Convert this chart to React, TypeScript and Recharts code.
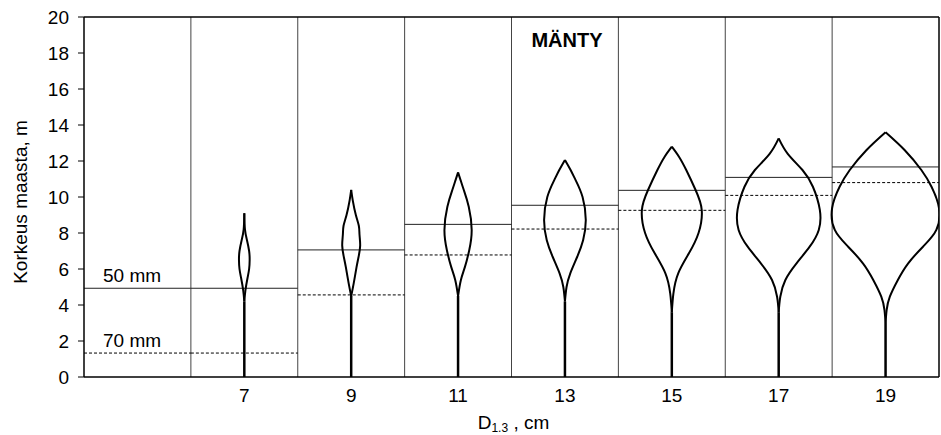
import {
  ComposedChart,
  XAxis,
  YAxis,
  Scatter,
  ReferenceLine,
  ReferenceDot,
  Label,
  Curve,
} from "recharts";

// rinnankorkeusläpimitta (cm), the violins sit on these
const diameters = [7, 9, 11, 13, 15, 17, 19];

// cell borders along x (each cell is 2 cm wide)
const cellStart = [4, 6, 8, 10, 12, 14, 16, 18];
const cellWidth = 2;

// height (m) where the stem reaches 50 mm and 70 mm, per cell
const level50 = [4.93, 4.93, 7.06, 8.48, 9.54, 10.37, 11.09, 11.67];
const level70 = [1.33, 1.33, 4.56, 6.78, 8.22, 9.26, 10.09, 10.8];

const yTicks = [0, 2, 4, 6, 8, 10, 12, 14, 16, 18, 20];

// crown profiles: [height m, half width in cm-axis units], bottom to top
const profile7 = [[4.2, 0], [4.8, 0.02], [5.5, 0.06], [6.0, 0.09], [6.5, 0.1], [7.0, 0.09], [7.6, 0.05], [8.2, 0.012], [9.1, 0]];
const profile9 = [[4.5, 0], [5.2, 0.047], [6.1, 0.1], [6.7, 0.14], [7.3, 0.168], [7.9, 0.156], [8.4, 0.143], [9.0, 0.087], [9.8, 0.03], [10.4, 0]];
const profile11 = [[4.5, 0], [5.39, 0.053], [6.13, 0.13], [7.06, 0.21], [8.17, 0.255], [9.46, 0.2], [10.4, 0.106], [10.94, 0.047], [11.37, 0]];
const profile13 = [[4.2, 0], [5.0, 0.03], [5.76, 0.1], [6.68, 0.23], [7.6, 0.34], [8.72, 0.39], [10.0, 0.33], [10.94, 0.2], [11.5, 0.106], [12.06, 0]];
const profile15 = [[3.6, 0], [4.65, 0.03], [5.76, 0.12], [6.87, 0.32], [8.0, 0.5], [9.28, 0.56], [10.39, 0.445], [11.5, 0.27], [12.24, 0.134], [12.8, 0]];
const profile17 = [[3.6, 0], [4.46, 0.03], [5.39, 0.125], [6.3, 0.33], [7.24, 0.58], [8.17, 0.75], [9.28, 0.77], [10.57, 0.64], [11.5, 0.445], [12.4, 0.17], [13.26, 0]];
const profile19 = [[3.0, 0], [3.72, 0.02], [4.46, 0.08], [5.39, 0.23], [6.3, 0.42], [7.24, 0.7], [8.17, 0.95], [9.39, 1.0], [10.57, 0.86], [11.5, 0.67], [12.6, 0.36], [13.6, 0]];

const profiles = [profile7, profile9, profile11, profile13, profile15, profile17, profile19];

const FONT = "'Liberation Sans', Arial, sans-serif";

const renderNothing = () => <g />;

// smooth outline through the scatter points
const renderOutline = (props: any) => (
  <Curve points={props.points} type="natural" stroke="#000" strokeWidth={2} fill="none" />
);

const tagLabel = (text: string) => (props: any) => {
  const vb = props.viewBox;
  return (
    <text x={vb.x + 19} y={vb.y - 6} fontSize={19} fill="#000" fontFamily={FONT}>
      {text}
    </text>
  );
};

const renderYLabel = (props: any) => {
  const vb = props.viewBox;
  const x = 27;
  const y = vb.y + vb.height / 2 + 5;
  return (
    <text x={x} y={y} transform={`rotate(-90 ${x} ${y})`} textAnchor="middle" fontSize={19} fill="#000" fontFamily={FONT}>
      Korkeus maasta, m
    </text>
  );
};

const renderXLabel = (props: any) => {
  const vb = props.viewBox;
  return (
    <text x={vb.x + vb.width / 2 + 2} y={vb.y + 52} textAnchor="middle" fontSize={19} fill="#000" fontFamily={FONT}>
      D<tspan fontSize={12} dy={3}>1.3</tspan>
      <tspan dy={-3}> , cm</tspan>
    </text>
  );
};

export default function App() {
  return (
    <div style={{ position: "absolute", left: 0, top: 0, background: "#fff" }}>
      <ComposedChart
        width={941}
        height={435}
        margin={{ top: 17, right: 2, bottom: 0, left: 0 }}
        style={{ fontFamily: FONT }}
      >
        <XAxis
          type="number"
          dataKey="x"
          domain={[4, 20]}
          allowDataOverflow
          ticks={diameters}
          interval={0}
          tickLine={false}
          tickMargin={6}
          height={58}
          axisLine={{ stroke: "#000", strokeWidth: 1.5 }}
          tick={{ fill: "#000", fontSize: 19 }}
        >
          <Label content={renderXLabel} />
        </XAxis>
        <YAxis
          type="number"
          dataKey="y"
          domain={[0, 20]}
          allowDataOverflow
          ticks={yTicks}
          interval={0}
          width={84}
          tickSize={6}
          tickMargin={9}
          axisLine={{ stroke: "#000", strokeWidth: 1.5 }}
          tickLine={{ stroke: "#000" }}
          tick={{ fill: "#000", fontSize: 19 }}
        >
          <Label content={renderYLabel} />
        </YAxis>

        {cellStart.slice(1).map((x) => (
          <ReferenceLine key={`v${x}`} x={x} stroke="#444" strokeWidth={1} />
        ))}
        <ReferenceLine x={20} stroke="#000" strokeWidth={1.5} />
        <ReferenceLine y={20} stroke="#000" strokeWidth={1.5} />

        {cellStart.map((x, i) => (
          <ReferenceLine
            key={`s${x}`}
            segment={[{ x, y: level50[i] }, { x: x + cellWidth, y: level50[i] }]}
            stroke="#222"
            strokeWidth={1}
            label={i === 0 ? tagLabel("50 mm") : undefined}
          />
        ))}
        {cellStart.map((x, i) => (
          <ReferenceLine
            key={`d${x}`}
            segment={[{ x, y: level70[i] }, { x: x + cellWidth, y: level70[i] }]}
            stroke="#000"
            strokeWidth={1}
            strokeDasharray="3 2"
            label={i === 0 ? tagLabel("70 mm") : undefined}
          />
        ))}

        {diameters.map((d, i) => (
          <ReferenceLine
            key={`stem${d}`}
            segment={[{ x: d, y: 0 }, { x: d, y: profiles[i][0][0] }]}
            stroke="#000"
            strokeWidth={2.5}
          />
        ))}

        {diameters.map((d, i) => (
          <Scatter
            key={`r${d}`}
            data={profiles[i].map(([h, w]) => ({ x: d + w, y: h }))}
            fill="#000"
            line={renderOutline}
            shape={renderNothing}
            isAnimationActive={false}
          />
        ))}
        {diameters.map((d, i) => (
          <Scatter
            key={`l${d}`}
            data={profiles[i].map(([h, w]) => ({ x: d - w, y: h }))}
            fill="#000"
            line={renderOutline}
            shape={renderNothing}
            isAnimationActive={false}
          />
        ))}

        <ReferenceDot
          x={13}
          y={18.75}
          r={0}
          stroke="none"
          label={{ value: "MÄNTY", position: "center", fontSize: 20, fontWeight: "bold", fill: "#000", dx: 2 }}
        />
      </ComposedChart>
    </div>
  );
}
